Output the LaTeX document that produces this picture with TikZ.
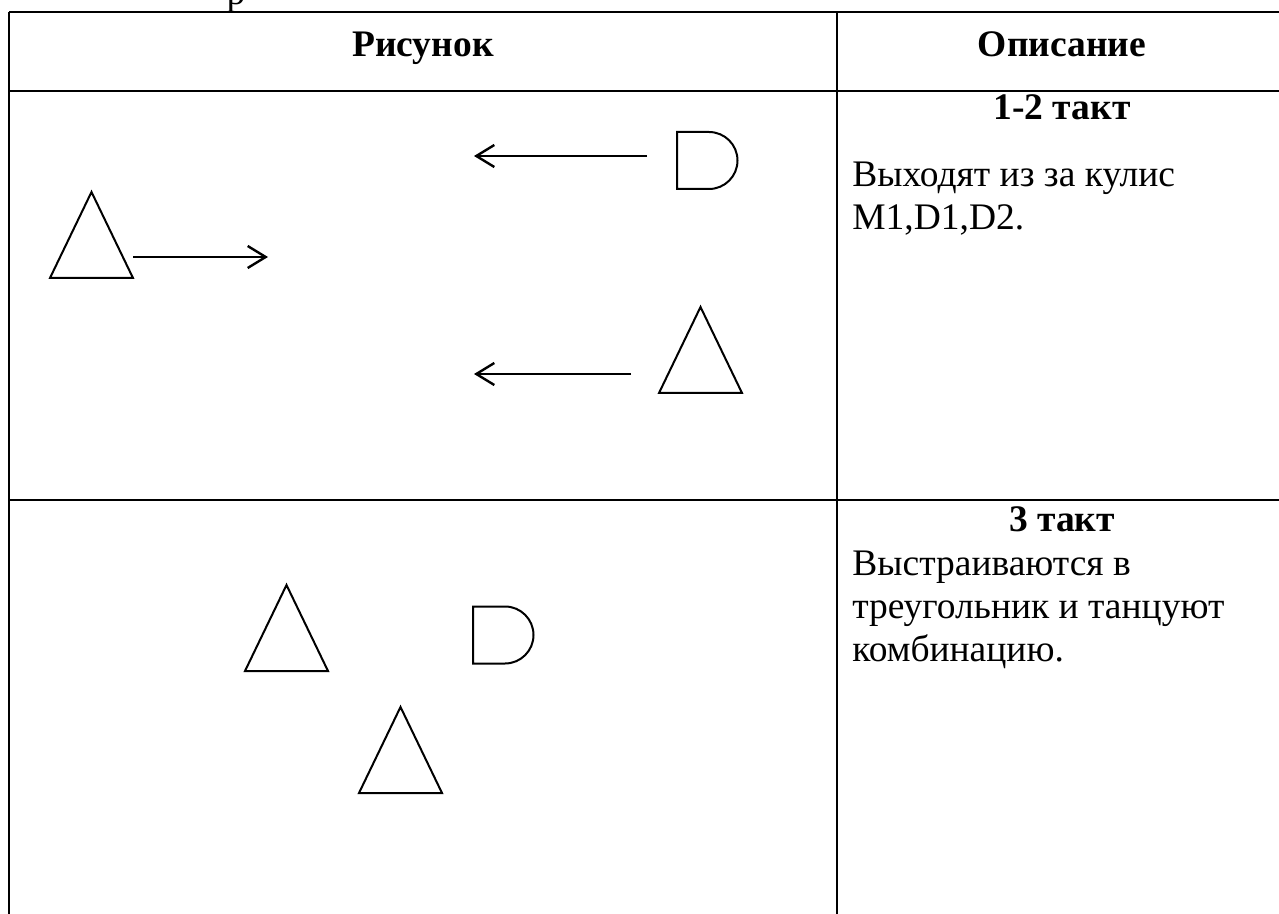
\documentclass[tikz,border=0pt]{standalone}
\usepackage{fontspec}
\setmainfont{Liberation Serif}
\usetikzlibrary{arrows.meta}

\begin{document}
\begin{tikzpicture}[x=0.5pt,y=-0.5pt,
  rule/.style={line width=1.3pt},
  fig/.style={line width=1pt},
  move/.style={line width=1.2pt,-{Straight Barb[length=9pt,width=11pt]}},
  txt/.style={inner sep=0pt,font=\fontsize{18.75}{21.6}\selectfont},
  head/.style={inner sep=0pt,font=\fontsize{18.75}{21.6}\selectfont\bfseries},
  dancer/.pic={\draw[fig] (0,-43) -- (41.5,43) -- (-41.5,43) -- cycle;},
  lady/.pic={\draw[fig] (0,-28.5) -- (0,28.5) -- (32,28.5) arc[start angle=-90,end angle=90,radius=14.25pt] -- cycle;}]

\useasboundingbox (0,0) rectangle (1279,914);

% table
\draw[rule] (9,12) -- (1290,12);
\draw[rule] (9,91) -- (1290,91);
\draw[rule] (9,500) -- (1290,500);
\draw[rule] (9,12) -- (9,920);
\draw[rule] (837,12) -- (837,920);

\node[txt,anchor=base] (cut) at (236,5) {р};
\node[head,anchor=base] (hfig) at (423,57) {Рисунок};
\node[head,anchor=base] (hdesc) at (1062,57) {Описание};

% row 1
\node[head,anchor=base] (t12) at (1062,120) {1-2 такт};
\node[txt,anchor=base west] (d12a) at (852,187) {Выходят из за кулис};
\node[txt,anchor=base west] (d12b) at (852,230) {M1,D1,D2.};

\pic (m1) at (91.5,235) {dancer};
\pic (w1) at (677,160.5) {lady};
\pic (w2) at (700.5,350) {dancer};

\coordinate (m1from) at (133,257);
\coordinate (m1to) at (268,257);
\coordinate (w1from) at (647,156);
\coordinate (w1to) at (474,156);
\coordinate (w2from) at (631,374);
\coordinate (w2to) at (474,374);
\draw[move] (m1from) -- (m1to);
\draw[move] (w1from) -- (w1to);
\draw[move] (w2from) -- (w2to);

% row 2
\node[head,anchor=base] (t3) at (1062,531) {3 такт};
\node[txt,anchor=base west] (d3a) at (852,575) {Выстраиваются в};
\node[txt,anchor=base west] (d3b) at (852,618) {треугольник и танцуют};
\node[txt,anchor=base west] (d3c) at (852,661) {комбинацию.};

\pic (m2) at (286.5,628) {dancer};
\pic (w3) at (473,635) {lady};
\pic (w4) at (400.5,750) {dancer};
\end{tikzpicture}
\end{document}
